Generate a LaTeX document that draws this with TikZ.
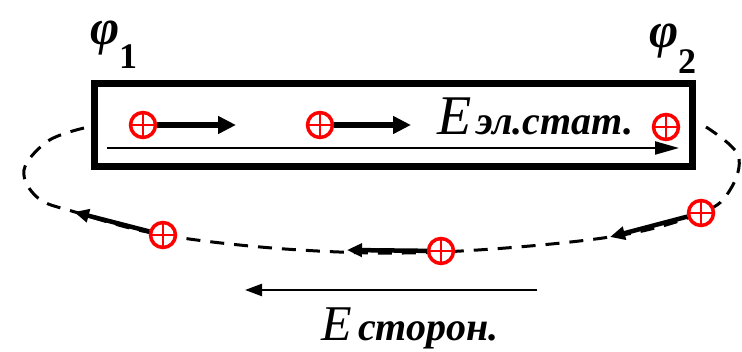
\documentclass[tikz,border=0pt]{standalone}
\usepackage{fontspec}
\setmainfont{Liberation Serif}
\usetikzlibrary{positioning, arrows.meta}

\begin{document}
\begin{tikzpicture}[x=1pt, y=-1pt,
    wirebox/.style={
      draw, line width=7pt, minimum width=598pt, minimum height=83pt,
      inner sep=0pt
    },
    charge/.style={
      circle, draw=red, fill=white, line width=3.5pt,
      minimum size=25pt, inner sep=0pt,
      path picture={\draw[red, line width=2.8pt]
        (path picture bounding box.north) -- (path picture bounding box.south)
        (path picture bounding box.west) -- (path picture bounding box.east);}
    },
    potlab/.style={inner sep=0pt, font=\fontsize{50}{50}\selectfont\bfseries\itshape},
    potsub/.style={inner sep=0pt, font=\fontsize{36}{36}\selectfont\bfseries},
    fieldlab/.style={inner sep=0pt, font=\fontsize{56}{56}\selectfont\itshape},
    fieldsub/.style={inner sep=0pt, font=\fontsize{40}{40}\selectfont\bfseries\itshape},
    fat/.style={-{Triangle[length=18pt, width=17pt]}, line width=6pt},
    loopfat/.style={-{Triangle[length=15pt, width=13pt]}, line width=4.5pt},
    fieldline/.style={-{Triangle[length=24pt, width=13pt]}, line width=2.2pt},
    loop/.style={line width=3pt, dash pattern=on 14pt off 10pt},
  ]
    \useasboundingbox (0,0) rectangle (742,352);

    % closed path outside the conductor
    \draw[loop] plot[smooth, tension=0.6] coordinates {
      (84,128) (48,141) (24,170) (38,198) (75,212) (163,235)
      (300,250) (441,252) (610,237) (701,213) (730,190) (738,155) (706,127)};

    % conductor
    \node[wirebox] (wire) at (393.25,125) {};

    % potentials
    \node[potlab] (phi1) at (105,38) {φ};
    \node[potsub] (one) at (128,57) {1};
    \node[potlab] (phi2) at (664,41) {φ};
    \node[potsub] (two) at (687,62) {2};

    % charges
    \node[charge] (q1) at (143,125) {};
    \node[charge] (q2) at (320,125) {};
    \node[charge] (q3) at (666,127) {};
    \node[charge] (q4) at (701,213) {};
    \node[charge] (q5) at (163,235) {};
    \node[charge] (q6) at (441,251) {};

    \coordinate (t1) at (236,125);
    \coordinate (t2) at (411,125);
    \coordinate (t4) at (610,237);
    \coordinate (t5) at (74,212);
    \coordinate (t6) at (347,250);
    \draw[fat] (q1) -- (t1);
    \draw[fat] (q2) -- (t2);
    \draw[loopfat] (q4) -- (t4);
    \draw[loopfat] (q5) -- (t5);
    \draw[loopfat] (q6) -- (t6);

    % field inside the conductor
    \coordinate (inl) at (107,148);
    \coordinate (inr) at (679,148);
    \draw[fieldline] (inl) -- (inr);
    \node[fieldlab, anchor=base west] (eel) at (437,135) {E};
    \node[fieldsub, anchor=base west, xshift=5pt] (elsub) at (eel.base east) {эл.стат.};

    % outside field
    \coordinate (outr) at (537,290);
    \coordinate (outl) at (245,290);
    \draw[fieldline, -{Triangle[length=17pt, width=12pt]}] (outr) -- (outl);
    \node[fieldlab, font=\fontsize{50}{50}\selectfont\itshape, anchor=base west] (est) at (321,341) {E};
    \node[fieldsub, anchor=base west, xshift=6pt] (stsub) at (est.base east) {сторон.};
  \end{tikzpicture}
\end{document}
